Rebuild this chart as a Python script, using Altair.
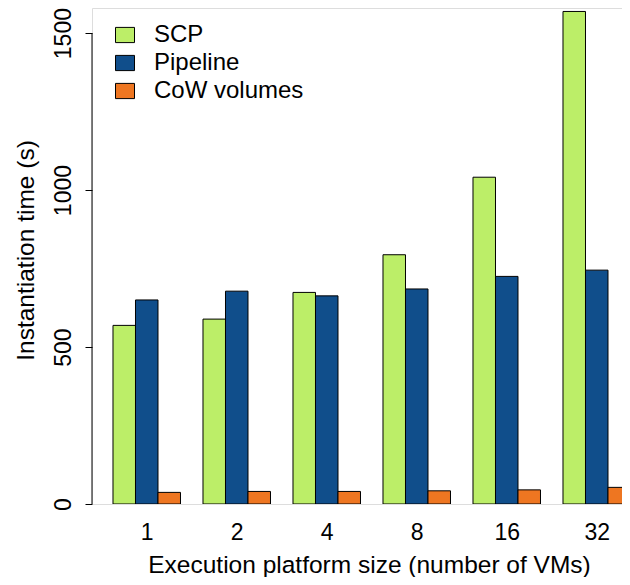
import altair as alt
import pandas as pd

# ---- data ----
sizes = ["1", "2", "4", "8", "16", "32"]
series = ["SCP", "Pipeline", "CoW volumes"]
scp = [569, 589, 674, 794, 1041, 1569]
pipeline = [650, 678, 663, 685, 725, 745]
cow = [37, 40, 40, 42, 45, 53]
colors = ["#BCEE68", "#104E8B", "#EE7621"]
y_ticks = [0, 500, 1000, 1500]

FONT = "Liberation Sans"

# R barplot(beside=TRUE) layout: each group = 3 bars of width 1, plus 1 unit gap
rows = []
for g, size in enumerate(sizes):
    for s, (name, vals) in enumerate(zip(series, [scp, pipeline, cow])):
        start = 1 + 4 * g + s
        rows.append({"size": size, "series": name, "x0": start, "x1": start + 1,
                     "value": vals[g]})
df = pd.DataFrame(rows)

centers = [1 + 4 * g + 1.5 for g in range(len(sizes))]
label_expr = " : ".join(
    [f"datum.value == {c} ? '{s}'" for c, s in zip(centers, sizes)]) + " : ''"

W, H = 530, 496
px_per_unit = 22.5
x_min = 0.0667
x_domain = [x_min, x_min + W / px_per_unit]
y_domain = [0, 1580]

bars = alt.Chart(df).mark_bar(stroke="black", strokeWidth=1, clip=True).encode(
    x=alt.X("x0:Q", scale=alt.Scale(domain=x_domain, nice=False, zero=False),
            axis=alt.Axis(values=centers, labelExpr=label_expr, domain=False,
                          ticks=False, tickSize=0, grid=False,
                          labelFontSize=23, labelColor="black", labelFont=FONT,
                          labelPadding=35, labelBaseline="alphabetic",
                          labelFlush=False, labelOverlap=False,
                          title="Execution platform size (number of VMs)",
                          titleFontSize=24.5, titleFontWeight="normal",
                          titleColor="black", titleFont=FONT,
                          titleBaseline="alphabetic", titleY=68,
                          titleX=(369 - 92), titleAnchor="middle",
                          titleAlign="center")),
    x2="x1:Q",
    y=alt.Y("value:Q", scale=alt.Scale(domain=y_domain, nice=False),
            axis=alt.Axis(values=y_ticks, format="d", domain=False, grid=False,
                          ticks=True, tickSize=7, tickColor="black",
                          labelFontSize=23, labelColor="black", labelFont=FONT,
                          labelAngle=270, labelAlign="center",
                          labelBaseline="alphabetic", labelPadding=15,
                          title="Instantiation time (s)",
                          titleFontSize=24.5, titleFontWeight="normal",
                          titleColor="black", titleFont=FONT,
                          titleAngle=270, titleAlign="center",
                          titleBaseline="alphabetic", titleX=-59, titleY=242)),
    y2=alt.datum(0),
    color=alt.Color("series:N", sort=series,
                    scale=alt.Scale(domain=series, range=colors),
                    legend=alt.Legend(title=None, orient="none", legendX=21,
                                      legendY=15, padding=0,
                                      symbolType="M-1,-0.8H1V0.8H-1Z",
                                      symbolSize=361, symbolStrokeColor="black",
                                      symbolStrokeWidth=1, symbolOpacity=1,
                                      labelFontSize=24, labelFont=FONT,
                                      labelColor="black", labelOffset=17,
                                      rowPadding=4)),
)

# R-style y axis line, spanning only the first to the last tick
axis_span = pd.DataFrame({"lo": [y_ticks[0]], "hi": [y_ticks[-1]]})
axis_line = alt.Chart(axis_span).mark_rule(color="black", strokeWidth=1).encode(
    x=alt.value(0),
    y=alt.Y("lo:Q", scale=alt.Scale(domain=y_domain, nice=False)),
    y2="hi:Q",
)

chart = alt.layer(bars, axis_line).properties(
    width=W, height=H,
    autosize=alt.AutoSizeParams(type="none"),
    padding={"left": 84, "top": 0, "right": 0, "bottom": 73},
).configure_view(strokeWidth=0, strokeOpacity=0).configure(font=FONT)

chart.save("out.html", embed_options={"renderer": "svg", "actions": False})
